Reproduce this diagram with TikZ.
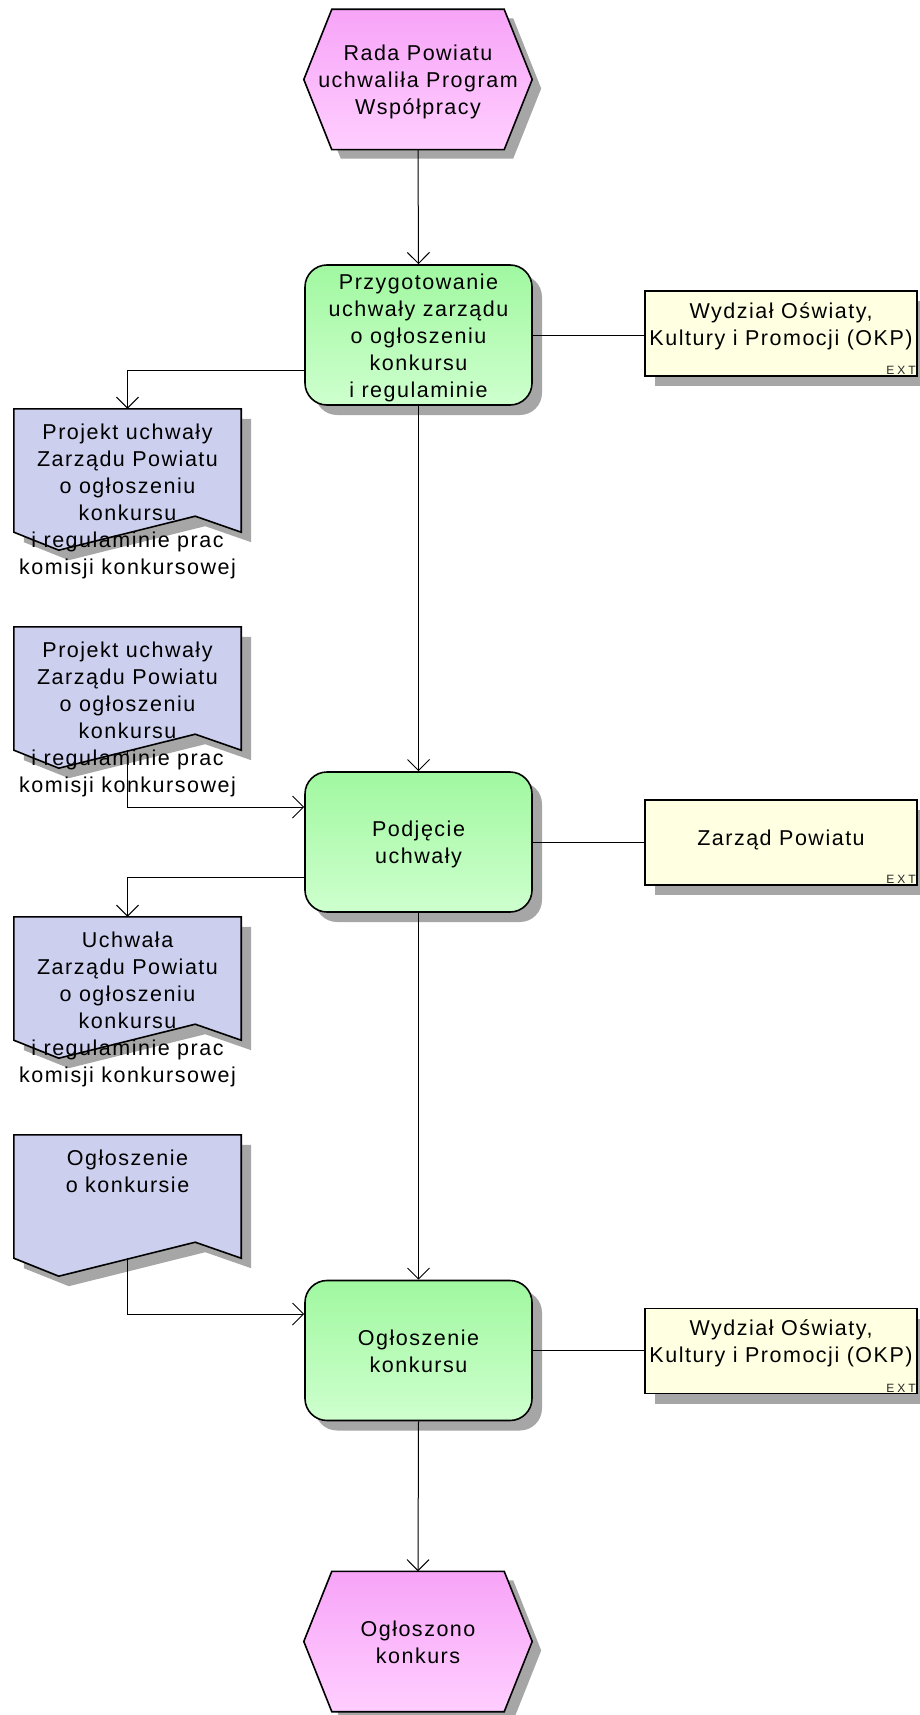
\documentclass[tikz,border=0pt]{standalone}
\usepackage{fontspec}
\setmainfont{Liberation Sans}[LetterSpace=7]
\newfontfamily\extfont{Liberation Sans}[LetterSpace=25]
\usetikzlibrary{arrows.meta,calc,shadows,backgrounds}

\definecolor{evtop}{RGB}{247,164,247}
\definecolor{evbot}{RGB}{255,206,255}
\definecolor{fntop}{RGB}{160,248,160}
\definecolor{fnbot}{RGB}{206,255,206}
\definecolor{docfill}{RGB}{204,207,238}
\definecolor{orgfill}{RGB}{255,255,225}
\definecolor{shgray}{RGB}{166,166,166}

\newcommand\dfont{\fontsize{21.5pt}{27pt}\selectfont}
% struts that give every text block the same line box height above and below
\newcommand\hi{\rule{0pt}{22pt}}
\newcommand\lo{\rule[-6pt]{0pt}{6pt}}

\begin{document}
\begin{tikzpicture}[x=1pt,y=-1pt,
  border/.style={draw=black,line width=1.6pt},
  evt/.style={minimum width=228pt,minimum height=140pt,inner sep=0pt,align=center,font=\dfont},
  hexpath/.style={insert path={($(#1.north west)+(28,0)$) -- ($(#1.north east)+(-28,0)$) -- (#1.east)
      -- ($(#1.south east)+(-28,0)$) -- ($(#1.south west)+(28,0)$) -- (#1.west) -- cycle}},
  docpath/.style={insert path={(#1.north west) -- (#1.north east) -- (#1.south east)
      -- ($(#1.south east)+(-46,-16)$) -- ($(#1.south west)+(45,18)$) -- (#1.south west) -- cycle}},
  func/.style={rectangle,rounded corners=22pt,minimum width=227pt,minimum height=140pt,inner sep=0pt,
      border,top color=fntop,bottom color=fnbot,align=center,font=\dfont,
      drop shadow={shadow xshift=10pt,shadow yshift=-10pt,fill=shgray,opacity=1}},
  doc/.style={minimum width=227pt,minimum height=123pt,inner sep=0pt},
  doctext/.style={anchor=north,inner sep=0pt,align=center,font=\dfont},
  org/.style={rectangle,minimum width=272pt,minimum height=85pt,inner sep=0pt,border,fill=orgfill,
      drop shadow={shadow xshift=10pt,shadow yshift=-10pt,fill=shgray,opacity=1}},
  orgtext/.style={inner sep=0pt,align=center,font=\dfont},
  extlabel/.style={anchor=south east,inner sep=0pt,font=\extfont\fontsize{12pt}{13pt}\selectfont,text=black!85},
  flow/.style={line width=1pt,-{Straight Barb[length=11pt,width=22pt,line width=1pt]}},
  link/.style={line width=1pt}
]
\useasboundingbox (0,0) rectangle (920,1715);

% events
\node[evt] (e1) at (418,79.5) {\hi Rada Powiatu\\uchwaliła Program\\Współpracy\lo};
\node[evt] (e2) at (418,1641.5) {\hi Ogłoszono\\konkurs\lo};

% functions
\node[func] (f1) at (418.5,335) {\hi Przygotowanie\\uchwały zarządu\\o ogłoszeniu\\konkursu\\i regulaminie\lo};
\node[func] (f2) at (418.5,842) {\hi Podjęcie\\uchwały\lo};
\node[func] (f3) at (418.5,1350.5) {\hi Ogłoszenie\\konkursu\lo};

% organisational units
\node[org] (o1) at (781,333.5) {};
\node[org] (o2) at (781,842.5) {};
\node[org] (o3) at (781,1351) {};
\node[orgtext] (o1t) at ($(o1.center)+(0,-7.5)$) {Wydział Oświaty,\\Kultury i Promocji (OKP)};
\node[orgtext] (o2t) at ($(o2.center)+(0,-3)$) {Zarząd Powiatu};
\node[orgtext] (o3t) at ($(o3.center)+(0,-7.5)$) {Wydział Oświaty,\\Kultury i Promocji (OKP)};
\node[extlabel] (o1x) at ($(o1.south east)+(-2,-2)$) {EXT};
\node[extlabel] (o2x) at ($(o2.south east)+(-2,-2)$) {EXT};
\node[extlabel] (o3x) at ($(o3.south east)+(-2,-2)$) {EXT};

% documents
\node[doc] (d1) at (127.5,470.5) {};
\node[doc] (d2) at (127.5,688.5) {};
\node[doc] (d3) at (127.5,978.5) {};
\node[doc] (d4) at (127.5,1196.5) {};

\begin{scope}[on background layer]
  \foreach \e in {e1,e2}{
    \path[fill=shgray,transform canvas={shift={(9pt,-9pt)}},hexpath=\e];
    \path[border,top color=evtop,bottom color=evbot,hexpath=\e];
  }
  \foreach \d in {d1,d2,d3,d4}{
    \path[fill=shgray,transform canvas={shift={(10pt,-10pt)}},docpath=\d];
    \path[border,fill=docfill,docpath=\d];
  }
\end{scope}

\node[doctext] (d1t) at ($(d1.north)+(0,10)$) {\rule{0pt}{20pt}Projekt uchwały\\Zarządu Powiatu\\o ogłoszeniu\\konkursu\\i regulaminie prac\\komisji konkursowej};
\node[doctext] (d2t) at ($(d2.north)+(0,10)$) {\rule{0pt}{20pt}Projekt uchwały\\Zarządu Powiatu\\o ogłoszeniu\\konkursu\\i regulaminie prac\\komisji konkursowej};
\node[doctext] (d3t) at ($(d3.north)+(0,10)$) {\rule{0pt}{20pt}Uchwała\\Zarządu Powiatu\\o ogłoszeniu\\konkursu\\i regulaminie prac\\komisji konkursowej};
\node[doctext] (d4t) at ($(d4.north)+(0,10)$) {\rule{0pt}{20pt}Ogłoszenie\\o konkursie};

% control flow
\draw[flow] (e1.south) -- (f1.north);
\draw[flow] (f1.south) -- (f2.north);
\draw[flow] (f2.south) -- (f3.north);
\draw[flow] (f3.south) -- (e2.north);

% document flow
\draw[flow] ($(f1.west)+(0,35)$) -| (d1.north);
\draw[flow] (d2.south) |- ($(f2.west)+(0,-35)$);
\draw[flow] ($(f2.west)+(0,35)$) -| (d3.north);
\draw[flow] (d4.south) |- ($(f3.west)+(0,-36.5)$);

% responsibilities
\draw[link] (f1.east) -- (f1.east -| o1.west);
\draw[link] (f2.east) -- (f2.east -| o2.west);
\draw[link] (f3.east) -- (f3.east -| o3.west);
\end{tikzpicture}
\end{document}
